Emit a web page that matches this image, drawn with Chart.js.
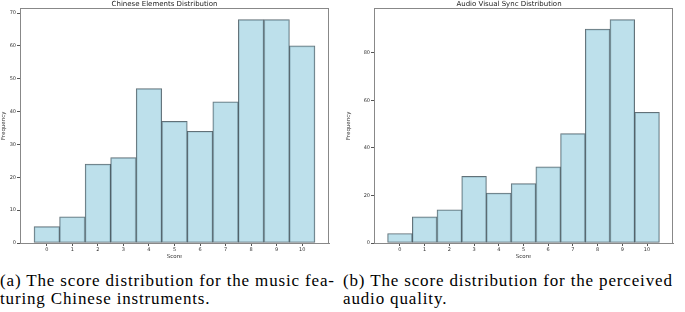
<!DOCTYPE html>
<html><head><meta charset="utf-8">
<script src="https://cdn.jsdelivr.net/npm/chart.js@4/dist/chart.umd.min.js"></script>
<style>
body{margin:0;width:685px;height:312px;background:#fff;position:relative;overflow:hidden}
canvas{position:absolute;top:0}
#c1{left:0}
#c2{left:345px}
.cap{position:absolute;font-family:"Liberation Serif",serif;font-size:17px;line-height:17.5px;letter-spacing:0.85px;color:#000;white-space:nowrap}
</style></head><body>
<canvas id="c1" width="345" height="260"></canvas>
<canvas id="c2" width="340" height="260"></canvas>
<div class="cap" style="left:0;top:272px">(a) The score distribution for the music fea-<br>turing Chinese instruments.</div>
<div class="cap" style="left:343px;top:272px">(b) The score distribution for the perceived<br>audio quality.</div>
<script>
const scores = [0,1,2,3,4,5,6,7,8,9,10];
const chineseCounts = [5,8,24,26,47,37,34,43,68,68,60];
const syncCounts = [4,11,14,28,21,25,32,46,90,94,55];
const leftYTicks = [0,10,20,30,40,50,60,70];
const rightYTicks = [0,20,40,60,80];
const leftTitle = 'Chinese Elements Distribution';
const rightTitle = 'Audio Visual Sync Distribution';

const framePlugin = {
  id:'frame',
  afterDraw(chart){
    const a = chart.chartArea, ctx = chart.ctx;
    ctx.save();
    ctx.strokeStyle = '#888';
    ctx.lineWidth = 1;
    ctx.strokeRect(Math.round(a.left)+0.5, Math.round(a.top)+0.5, Math.round(a.right-a.left)-1, Math.round(a.bottom-a.top));
    ctx.restore();
  }
};

function makeChart(id, title, counts, yTicks, yWidth, rightPad){
  const lo = scores[0]-0.5, hi = scores[scores.length-1]+0.5;
  const m = (hi-lo)*0.05;
  const yMax = Math.max(...counts)*1.05;
  return new Chart(document.getElementById(id), {
    type:'bar',
    data:{datasets:[{
      data: scores.map((s,i)=>({x:s,y:counts[i]})),
      backgroundColor:'rgba(173,216,230,0.8)',
      borderColor:'rgba(45,65,75,0.75)',
      borderWidth:1,
      borderSkipped:false,
      barPercentage:1,
      categoryPercentage:1
    }]},
    options:{
      responsive:false, animation:false,
      layout:{padding:{left:0,right:rightPad,top:0,bottom:0}},
      plugins:{
        legend:{display:false}, tooltip:{enabled:false},
        title:{display:true,text:title,color:'#222',font:{family:'DejaVu Sans',size:7,weight:'normal',lineHeight:1.2},padding:{top:0,bottom:0}}
      },
      scales:{
        x:{
          type:'linear', min:lo-m, max:hi+m, offset:false,
          grid:{drawOnChartArea:false, tickLength:3, color:'#555', offset:false},
          border:{color:'#888'},
          ticks:{font:{family:'DejaVu Sans',size:5},color:'#333',padding:1,maxRotation:0},
          afterBuildTicks:s=>{s.ticks = scores.map(v=>({value:v}));},
          afterFit:s=>{s.height=17;},
          title:{display:true,text:'Score',color:'#333',font:{family:'DejaVu Sans',size:5.5},padding:0}
        },
        y:{
          min:0, max:yMax,
          grid:{drawOnChartArea:false, tickLength:3, color:'#555'},
          border:{color:'#888'},
          ticks:{font:{family:'DejaVu Sans',size:5},color:'#333',padding:1},
          afterBuildTicks:s=>{s.ticks = yTicks.map(v=>({value:v}));},
          afterFit:s=>{s.width=yWidth;},
          title:{display:true,text:'Frequency',color:'#333',font:{family:'DejaVu Sans',size:5.5},padding:0}
        }
      }
    },
    plugins:[framePlugin]
  });
}
makeChart('c1', leftTitle, chineseCounts, leftYTicks, 20, 16);
makeChart('c2', rightTitle, syncCounts, rightYTicks, 29, 12);
</script>
</body></html>
